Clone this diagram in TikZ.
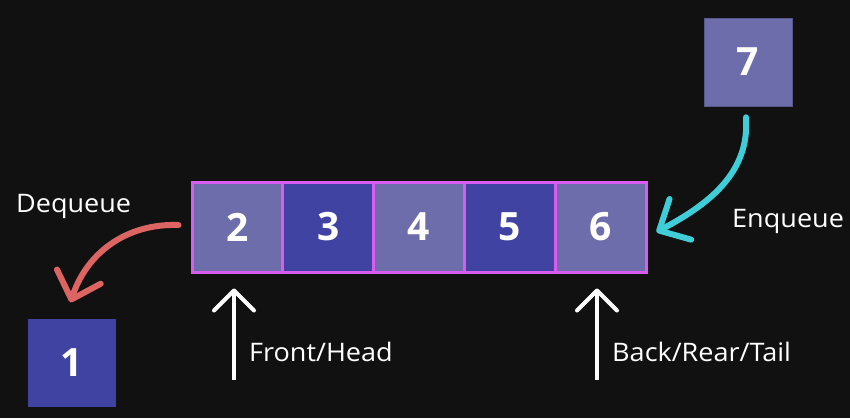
\documentclass[tikz,border=0pt]{standalone}
\usepackage{fontspec}
\setmainfont{Open Sans}
\newfontfamily\lblfont[FakeStretch=1.06]{Open Sans}
\usetikzlibrary{arrows.meta}
\definecolor{bg}{HTML}{111112}
\definecolor{light}{HTML}{6D6DAC}
\definecolor{dark}{HTML}{4043A1}
\definecolor{rim}{HTML}{D95CF0}
\definecolor{redarr}{HTML}{DC6462}
\definecolor{cyanarr}{HTML}{3FCDD8}
\tikzset{
  cell/.style={draw=rim, line width=3pt, minimum width=90.8pt, minimum height=90pt, inner sep=0pt,
    font=\fontsize{39}{42}\selectfont\bfseries, text=white},
  lone/.style={minimum width=88pt, minimum height=88pt, inner sep=0pt,
    font=\fontsize{39}{42}\selectfont\bfseries, text=white},
  lbl/.style={text=white, font=\lblfont\fontsize{25.5}{28}\selectfont, inner sep=0pt},
  curvy/.style={line width=6pt, line cap=round, -{Straight Barb[length=24pt, width=46pt, line cap=round, line join=round]}},
  up/.style={white, line width=4pt, -{Straight Barb[length=20pt, width=40pt, line cap=round, line join=round]}},
}
\begin{document}
\begin{tikzpicture}[x=1pt, y=1pt]
\fill[bg] (0,0) rectangle (850,-418);
\useasboundingbox (0,0) rectangle (850,-418);
% queue cells
\node[cell, fill=light] (c2) at (237.4,-227) {2};
\node[cell, fill=dark]  (c3) at (328.2,-227) {3};
\node[cell, fill=light] (c4) at (419.0,-227) {4};
\node[cell, fill=dark]  (c5) at (509.8,-227) {5};
\node[cell, fill=light] (c6) at (600.6,-227) {6};
% loose elements
\node[lone, fill=light, draw=light!80!black, line width=0.6pt] (seven) at (748,-62) {7};
\node[lone, fill=dark] (one) at (71.5,-362.5) {1};
% labels
\node[lbl, anchor=base west] (deq) at (16,-212) {Dequeue};
\node[lbl, anchor=base west] (enq) at (732,-227) {Enqueue};
\node[lbl, anchor=base west] (front) at (249,-361) {Front/Head};
\node[lbl, anchor=base west] (back) at (612,-361) {Back/Rear/Tail};
% arrows
\draw[curvy, redarr] ([xshift=-12pt, yshift=2pt]c2.west) to[out=178, in=72] ([xshift=-1pt, yshift=16pt]one.north);
\draw[curvy, cyanarr] ([xshift=-2pt, yshift=-11pt]seven.south) to[out=-86, in=28] ([xshift=9pt, yshift=-5pt]c6.east);
\coordinate (fs) at (234,-380);
\coordinate (bs) at (597,-380);
\draw[up] (fs) -- ([xshift=-3.4pt, yshift=-15pt]c2.south);
\draw[up] (bs) -- ([xshift=-3.6pt, yshift=-15pt]c6.south);
\end{tikzpicture}
\end{document}
